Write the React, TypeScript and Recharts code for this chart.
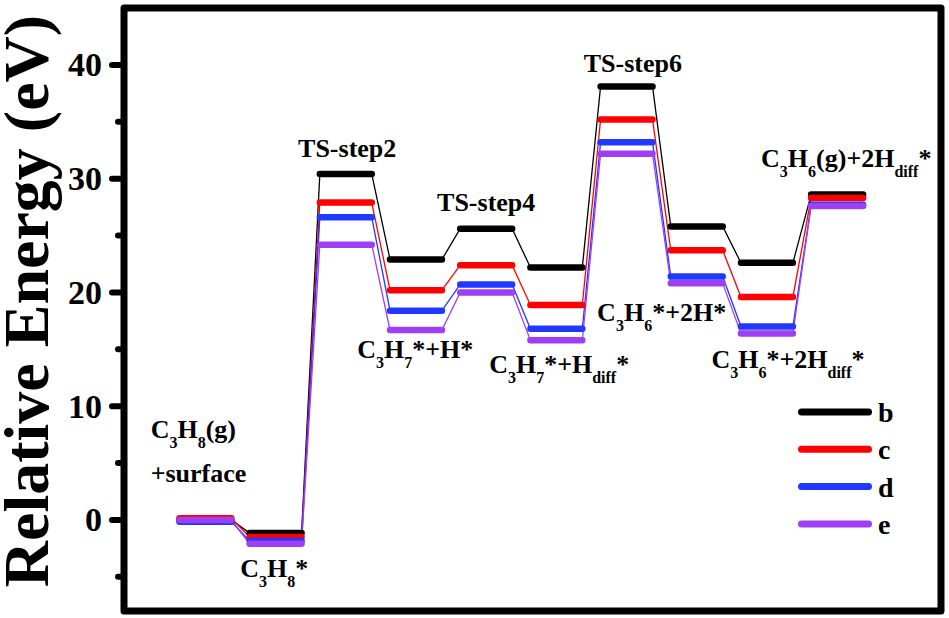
import { LineChart, Line, XAxis, YAxis, ReferenceArea, ReferenceDot, Legend } from "recharts";

// reaction states, left to right
const stateNames = [
  "C3H8(g)+surface",
  "C3H8*",
  "TS-step2",
  "C3H7*+H*",
  "TS-step4",
  "C3H7*+Hdiff*",
  "TS-step6",
  "C3H6*+2H*",
  "C3H6*+2Hdiff*",
  "C3H6(g)+2Hdiff*",
];

const seriesNames = ["b", "c", "d", "e"];
const seriesColors = ["#000000", "#ff0000", "#2038ff", "#9f3ff5"];

const energyB = [0, -1.15, 30.4, 22.9, 25.6, 22.2, 38.1, 25.8, 22.6, 28.6];
const energyC = [0.15, -1.5, 27.9, 20.2, 22.4, 18.9, 35.2, 23.7, 19.6, 28.3];
const energyD = [-0.15, -1.85, 26.6, 18.4, 20.7, 16.8, 33.2, 21.4, 17.0, 27.7];
const energyE = [0, -2.1, 24.2, 16.7, 20.0, 15.8, 32.2, 20.8, 16.4, 27.6];
const energies = [energyB, energyC, energyD, energyE];

const yTicks = [-5, 0, 5, 10, 15, 20, 25, 30, 35, 40];
const yLabeled = [0, 10, 20, 30, 40];

// state annotations ("_" marks a subscript, {..} groups it)
const labelTexts = [
  "C_3H_8(g)",
  "+surface",
  "C_3H_8*",
  "TS-step2",
  "C_3H_7*+H*",
  "TS-step4",
  "C_3H_7*+H_{diff}*",
  "TS-step6",
  "C_3H_6*+2H*",
  "C_3H_6*+2H_{diff}*",
  "C_3H_6(g)+2H_{diff}*",
];
const labelX = [-0.78, -0.78, 0.98, 2.02, 2.99, 4.0, 5.04, 6.09, 6.5, 8.3, 9.13];
const labelY = [7.2, 3.35, -5.05, 31.9, 14.2, 27.15, 12.9, 39.35, 17.5, 13.4, 31.0];
const labelAnchor = ["start", "start", "middle", "middle", "middle", "middle", "middle", "middle", "middle", "middle", "middle"];

const W = 949;
const H = 618;
const HALF = 0.37;
const X_DOMAIN: [number, number] = [-1.16, 10.48];
const Y_DOMAIN: [number, number] = [-8, 45];
const FONT = '"Liberation Serif", Tinos, "Times New Roman", "DejaVu Serif", serif';
const txt = { fontFamily: FONT, fontWeight: 700 };

const levelData = (vals: number[]) =>
  vals.flatMap((v, i) => [
    { x: i - HALF, y: v },
    { x: i + HALF, y: v },
    { x: i + 0.5, y: null },
  ]);

const pathData = (vals: number[]) =>
  vals.flatMap((v, i) => [
    { x: i - HALF, y: v },
    { x: i + HALF, y: v },
  ]);

function parseRich(s: string) {
  const parts: { t: string; sub: boolean }[] = [];
  const re = /_(\{[^}]*\}|.)/g;
  let last = 0;
  let m: RegExpExecArray | null;
  while ((m = re.exec(s))) {
    if (m.index > last) parts.push({ t: s.slice(last, m.index), sub: false });
    const v = m[1].startsWith("{") ? m[1].slice(1, -1) : m[1];
    parts.push({ t: v, sub: true });
    last = re.lastIndex;
  }
  if (last < s.length) parts.push({ t: s.slice(last), sub: false });
  return parts;
}

const RichText = ({ cx, cy, text, anchor }: any) => {
  const parts = parseRich(text);
  return (
    <text x={cx} y={cy} textAnchor={anchor} style={{ ...txt, fontSize: 26 }} fill="#000">
      {parts.map((p, i) => {
        const prevSub = i > 0 && parts[i - 1].sub;
        const dy = p.sub ? (prevSub ? 0 : 10) : prevSub ? -10 : 0;
        return (
          <tspan key={i} dy={dy} style={{ fontSize: p.sub ? 16 : 26 }}>
            {p.t}
          </tspan>
        );
      })}
    </text>
  );
};

const YTick = ({ x, y, payload }: any) => {
  const major = yLabeled.includes(payload.value);
  return (
    <g>
      <line x1={x - (major ? 12 : 6)} y1={y} x2={x} y2={y} stroke="#000" strokeWidth={6} strokeLinecap="round" />
      {major && (
        <text x={x - 22} y={y + 11.5} textAnchor="end" style={{ ...txt, fontSize: 34 }} fill="#000">
          {payload.value}
        </text>
      )}
    </g>
  );
};

const YTitle = ({ viewBox }: any) => {
  const cx = viewBox.x + 48;
  const cy = 301;
  return (
    <text
      x={cx}
      y={cy}
      transform={`rotate(-90 ${cx} ${cy})`}
      textAnchor="middle"
      style={{ ...txt, fontSize: 64 }}
      fill="#000"
    >
      Relative Energy (eV)
    </text>
  );
};

const LegendBox = () => (
  <svg width={140} height={150} style={{ overflow: "visible" }}>
    {seriesNames.map((name, i) => {
      const y = 10 + i * 37.3;
      return (
        <g key={name}>
          <line x1={6.5} y1={y} x2={73.5} y2={y} stroke={seriesColors[i]} strokeWidth={7} strokeLinecap="round" />
          <text x={83} y={y + 10} style={{ ...txt, fontSize: 28 }} fill="#000">
            {name}
          </text>
        </g>
      );
    })}
  </svg>
);

export default function App() {
  return (
    <div style={{ width: W, height: H, background: "#fff" }}>
      <style>{"body{margin:0}"}</style>
      <LineChart width={W} height={H} margin={{ top: 8, right: 8, bottom: 7, left: 0 }}>
        <XAxis dataKey="x" type="number" domain={X_DOMAIN} allowDataOverflow hide />
        <YAxis
          type="number"
          domain={Y_DOMAIN}
          allowDataOverflow
          ticks={yTicks}
          interval={0}
          width={124}
          axisLine={false}
          tickLine={false}
          tickSize={0}
          tickMargin={0}
          tick={<YTick />}
          label={{ content: <YTitle /> }}
        />
        <ReferenceArea
          x1={X_DOMAIN[0]}
          x2={X_DOMAIN[1]}
          y1={Y_DOMAIN[0]}
          y2={Y_DOMAIN[1]}
          fill="none"
          fillOpacity={0}
          stroke="#000"
          strokeWidth={7}
          strokeLinejoin="round"
          ifOverflow="visible"
        />
        {energies.map((vals, i) => (
          <Line
            key={"p" + i}
            data={pathData(vals)}
            dataKey="y"
            type="linear"
            stroke={seriesColors[i]}
            strokeWidth={1.3}
            dot={false}
            legendType="none"
            isAnimationActive={false}
          />
        ))}
        {energies.map((vals, i) => (
          <Line
            key={"l" + i}
            name={seriesNames[i]}
            data={levelData(vals)}
            dataKey="y"
            type="linear"
            stroke={seriesColors[i]}
            strokeWidth={6.5}
            strokeLinecap="round"
            dot={false}
            connectNulls={false}
            isAnimationActive={false}
          />
        ))}
        {labelTexts.map((t, i) => (
          <ReferenceDot
            key={"t" + i}
            x={labelX[i]}
            y={labelY[i]}
            r={0}
            ifOverflow="visible"
            shape={(p: any) => <RichText cx={p.cx} cy={p.cy} text={t} anchor={labelAnchor[i]} />}
          />
        ))}
        <Legend
          layout="horizontal"
          verticalAlign="middle"
          content={<LegendBox />}
          wrapperStyle={{ position: "absolute", left: 795, top: 402, width: 140, height: 150 }}
        />
      </LineChart>
    </div>
  );
}
